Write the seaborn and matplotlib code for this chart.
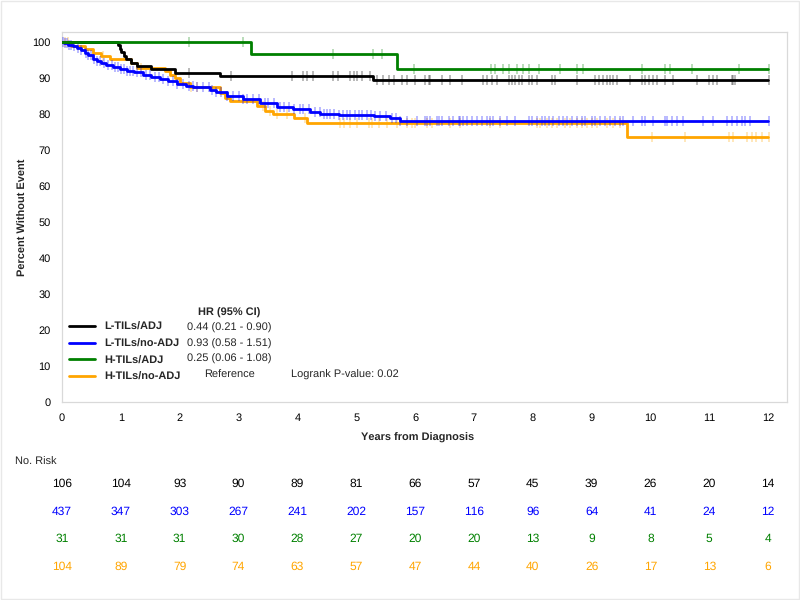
import numpy as np
import pandas as pd
import matplotlib
matplotlib.use("Agg")
import matplotlib.pyplot as plt
import matplotlib.transforms as mtransforms
from matplotlib.patches import Rectangle
import seaborn as sns

# ---------------- data ----------------
groups = ["L-TILs/ADJ", "L-TILs/no-ADJ", "H-TILs/ADJ", "H-TILs/no-ADJ"]
colors = ["#000000", "#0000FF", "#008000", "#FFA500"]
hr_text = ["0.44 (0.21 - 0.90)", "0.93 (0.58 - 1.51)", "0.25 (0.06 - 1.08)", "Reference"]

# event step times (years) and survival (%) after each step
black_t = [0.96, 0.98, 1.01, 1.05, 1.08, 1.18, 1.27, 1.52, 1.92, 2.69, 5.29]
black_s = [99.1, 98.1, 97.2, 96.2, 95.3, 94.3, 93.4, 92.5, 91.5, 90.6, 89.4]

blue_t = [0.04, 0.10, 0.18, 0.25, 0.32, 0.39, 0.45, 0.53, 0.60, 0.67, 0.75, 0.87,
          0.98, 1.10, 1.22, 1.38, 1.52, 1.67, 1.80, 1.95, 2.10, 2.23, 2.52, 2.62,
          2.80, 3.08, 3.37, 3.65, 3.93, 4.22, 4.39, 4.70, 5.30, 5.58, 5.75]
blue_s = [99.8, 99.3, 98.9, 98.3, 97.7, 97.0, 96.4, 95.4, 94.8, 94.2, 93.6, 93.0,
          92.5, 92.1, 91.6, 90.9, 90.4, 89.8, 89.1, 88.3, 87.8, 87.4, 86.8, 86.0,
          84.9, 84.2, 83.1, 82.1, 81.5, 80.6, 80.0, 79.7, 79.4, 78.8, 78.2]

green_t = [3.21, 5.69]
green_s = [96.7, 92.6]

orange_t = [0.16, 0.39, 0.53, 0.67, 0.82, 1.18, 1.27, 1.75, 1.84, 1.92, 2.01, 2.18,
            2.69, 2.77, 2.86, 3.31, 3.45, 3.58, 3.95, 4.16, 9.60]
orange_s = [99.0, 98.1, 97.1, 96.2, 95.2, 94.2, 92.8, 91.9, 90.9, 89.9, 88.6, 87.4,
            85.8, 84.6, 83.7, 82.3, 80.9, 80.0, 79.0, 77.6, 73.5]

# censoring times (years)
black_c = [2.15, 2.88, 3.90, 4.10, 4.17, 4.27, 4.61, 4.69, 4.90, 4.96, 5.02, 5.09,
           5.24, 5.35, 5.45, 5.55, 5.65, 5.77, 5.86, 6.00, 6.17, 6.23, 6.26, 6.45,
           6.59, 6.79, 7.16, 7.22, 7.30, 7.39, 7.59, 7.64, 7.70, 7.76, 7.81, 7.93,
           7.98, 8.07, 8.32, 8.38, 8.75, 9.06, 9.12, 9.20, 9.26, 9.31, 9.37, 9.43,
           9.65, 9.85, 9.91, 9.97, 10.05, 10.11, 10.25, 10.39, 10.79, 10.99, 11.07,
           11.13, 11.38, 11.41, 11.44, 12.01]
blue_c = [0.02, 0.05, 0.08, 0.12, 0.15, 0.20, 0.28, 0.33, 0.40, 0.45, 0.50, 0.55,
          0.60, 0.65, 0.72, 0.78, 0.85, 0.90, 0.95, 1.00, 1.05, 1.10, 1.15, 1.20,
          1.28, 1.35, 1.42, 1.50, 1.58, 1.65, 1.72, 1.80, 1.88, 1.95, 2.05, 2.15,
          2.22, 2.30, 2.40, 2.50, 2.55, 2.62, 2.70, 2.80, 2.90, 3.00, 3.08, 3.15,
          3.25, 3.35, 3.45, 3.50, 3.60, 3.70, 3.78, 3.85, 3.95, 4.05, 4.10, 4.20,
          4.30, 4.38, 4.45, 4.50, 4.55, 4.62, 4.70, 4.78, 4.85, 4.90, 4.98, 5.05,
          5.10, 5.18, 5.25, 5.32, 5.40, 5.50, 5.60, 5.68, 5.75, 5.86, 6.03, 6.17,
          6.20, 6.26, 6.37, 6.40, 6.45, 6.57, 6.65, 6.74, 6.76, 6.82, 6.88, 6.96,
          7.05, 7.13, 7.22, 7.28, 7.33, 7.45, 7.56, 7.70, 7.93, 7.98, 8.07, 8.15,
          8.21, 8.27, 8.35, 8.44, 8.52, 8.58, 8.66, 8.75, 8.83, 8.89, 9.00, 9.06,
          9.14, 9.23, 9.32, 9.40, 9.48, 9.54, 9.71, 9.85, 9.91, 10.05, 10.25, 10.28,
          10.36, 10.45, 10.56, 10.90, 11.07, 11.30, 11.38, 11.47, 11.55, 11.61,
          11.69, 12.01]
green_c = [2.15, 3.07, 4.60, 5.29, 5.43, 5.98, 7.29, 7.36, 7.49, 7.60, 7.73, 7.83,
           7.93, 8.10, 8.46, 8.75, 8.85, 9.85, 10.24, 10.33, 10.71, 11.50, 12.01]
orange_c = [0.05, 0.10, 0.70, 1.35, 2.20, 2.29, 3.42, 3.54, 3.65, 3.82, 4.13, 4.73,
            4.80, 4.90, 5.01, 5.21, 5.26, 5.38, 5.52, 5.69, 5.86, 5.94, 6.00, 6.20,
            6.28, 6.60, 6.77, 7.27, 7.45, 8.07, 8.12, 8.24, 8.32, 8.41, 8.55, 8.63,
            8.75, 8.83, 8.92, 9.00, 9.09, 9.26, 9.37, 9.48, 10.02, 10.59, 11.33,
            11.41, 11.64, 11.72, 11.80, 11.89, 12.01]

risk_times = list(range(0, 13))
risk_black = [106, 104, 93, 90, 89, 81, 66, 57, 45, 39, 26, 20, 14]
risk_blue = [437, 347, 303, 267, 241, 202, 157, 116, 96, 64, 41, 24, 12]
risk_green = [31, 31, 31, 30, 28, 27, 20, 20, 13, 9, 8, 5, 4]
risk_orange = [104, 89, 79, 74, 63, 57, 47, 44, 40, 26, 17, 13, 6]

# ---------------- style ----------------
sns.set_style("white")
plt.rcParams["font.family"] = ["Liberation Sans", "DejaVu Sans"]
plt.rcParams["text.hinting"] = "no_hinting"
plt.rcParams["text.hinting_factor"] = 1

fig = plt.figure(figsize=(8, 6), dpi=100)
ax = fig.add_axes([62 / 800, 1 - 402 / 600, (787 - 62) / 800, (402 - 32) / 600])

steps = [(black_t, black_s, black_c), (blue_t, blue_s, blue_c),
         (green_t, green_s, green_c), (orange_t, orange_s, orange_c)]
end_time = 12.0


def km_frame(t, s):
    tt = [0.0] + list(t) + [end_time]
    ss = [100.0] + list(s) + [s[-1]]
    return pd.DataFrame({"time": tt, "surv": ss})


def surv_at(t, s, times):
    idx = np.searchsorted(np.asarray(t), np.asarray(times), side="right")
    vals = np.concatenate([[100.0], np.asarray(s)])
    return vals[idx]


draw_order = [3, 1, 0, 2]
handles = {}
for gi in draw_order:
    t, s, c = steps[gi]
    df = km_frame(t, s)
    cen = pd.DataFrame({"time": c, "surv": surv_at(t, s, c)})
    sns.scatterplot(data=cen, x="time", y="surv", marker="|", s=55,
                    color=colors[gi], alpha=0.35, linewidth=1.1, ax=ax,
                    zorder=2 + draw_order.index(gi), legend=False)
    sns.lineplot(data=df, x="time", y="surv", drawstyle="steps-post",
                 color=colors[gi], linewidth=2.0, estimator=None, sort=False,
                 ax=ax, zorder=3 + draw_order.index(gi), legend=False)
    handles[gi] = ax.lines[-1]

ax.set_xlim(0, 12.32)
ax.set_ylim(0, 102.8)
ax.set_xticks(risk_times)
ax.set_yticks(range(0, 101, 10))
ax.tick_params(axis="both", which="both", direction="out", length=5, width=0.8,
               color="#cccccc", labelsize=8, labelcolor="#000000", pad=3)
for sp in ax.spines.values():
    sp.set_color("#d9d9d9")
    sp.set_linewidth(0.9)
ax.set_xlabel("")
ax.set_ylabel("Percent Without Event", fontsize=8, fontweight="bold", labelpad=3)

# legend (keys + group labels)
leg = ax.legend([handles[i] for i in range(4)], groups, loc="upper left",
                bbox_to_anchor=(69 / 800, 1 - 322 / 600), bbox_transform=fig.transFigure,
                frameon=False, prop={"size": 8, "weight": "bold"}, handlelength=2.3,
                handletextpad=0.9, labelspacing=0.58, borderpad=0, borderaxespad=0)

row_y = [328, 344, 359, 375]
fig.text(198 / 800, 1 - 313 / 600, "HR (95% CI)", fontsize=8, fontweight="bold",
         va="center", ha="left")
for i in range(3):
    fig.text(187 / 800, 1 - row_y[i] / 600, hr_text[i], fontsize=8, va="center", ha="left")
fig.text(204 / 800, 1 - row_y[3] / 600, hr_text[3], fontsize=8, va="center", ha="left")
fig.text(291 / 800, 1 - row_y[3] / 600, "Logrank P-value: 0.02", fontsize=8,
         va="center", ha="left")

# x label and risk table
blend = mtransforms.blended_transform_factory(ax.transData, fig.transFigure)
fig.text(6.05, 1 - 438 / 600, "Years from Diagnosis", transform=blend, fontsize=8,
         fontweight="bold", ha="center", va="center")
fig.text(15 / 800, 1 - 462 / 600, "No. Risk", fontsize=8, ha="left", va="center")
risk_rows = [risk_black, risk_blue, risk_green, risk_orange]
risk_y = [484, 512, 539, 567]
for r, vals in enumerate(risk_rows):
    for xt, v in zip(risk_times, vals):
        fig.text(xt, 1 - risk_y[r] / 600, str(v), transform=blend, fontsize=8.5,
                 color=colors[r], ha="center", va="center")

fig.patches.append(Rectangle((0.001, 0.001), 0.998, 0.997, transform=fig.transFigure,
                             fill=False, edgecolor="#e8e8e8", linewidth=1.0))

fig.savefig("out.png", dpi=100)
